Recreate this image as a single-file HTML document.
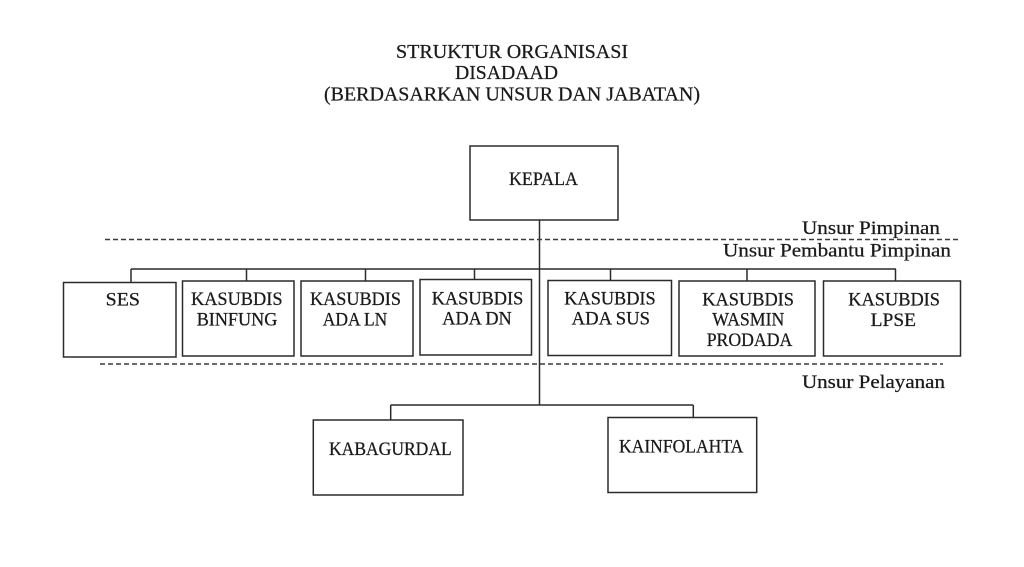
<!DOCTYPE html>
<html>
<head>
<meta charset="utf-8">
<style>
  html, body { margin: 0; padding: 0; background: #ffffff; }
  body { width: 1024px; height: 567px; overflow: hidden; }
  svg { display: block; }
  text { font-family: "Liberation Serif", "DejaVu Serif", serif; fill: #1a1a1a; stroke: #1a1a1a; stroke-width: 0.25; }
</style>
</head>
<body>
<svg width="1024" height="567" viewBox="0 0 1024 567" xmlns="http://www.w3.org/2000/svg">
  <rect x="0" y="0" width="1024" height="567" fill="#ffffff"/>

  <!-- Title -->
  <text x="396" y="58" font-size="20.5" textLength="232" lengthAdjust="spacingAndGlyphs">STRUKTUR ORGANISASI</text>
  <text x="455" y="79" font-size="20.5" textLength="103" lengthAdjust="spacingAndGlyphs">DISADAAD</text>
  <text x="324" y="100.5" font-size="20.5" textLength="376" lengthAdjust="spacingAndGlyphs">(BERDASARKAN UNSUR DAN JABATAN)</text>

  <g fill="none" stroke="#2b2b2b" stroke-width="1.5">
    <!-- KEPALA -->
    <rect x="470" y="146" width="148" height="74"/>
    <!-- main vertical -->
    <line x1="539.5" y1="220" x2="539.5" y2="405"/>

    <!-- horizontal connector for row 2 -->
    <line x1="131" y1="269" x2="896" y2="269"/>
    <line x1="131" y1="269" x2="131" y2="282.5"/>
    <line x1="246.5" y1="269" x2="246.5" y2="281"/>
    <line x1="365.5" y1="269" x2="365.5" y2="281"/>
    <line x1="474.5" y1="269" x2="474.5" y2="279.5"/>
    <line x1="610.5" y1="269" x2="610.5" y2="280.5"/>
    <line x1="747" y1="269" x2="747" y2="281"/>
    <line x1="895.5" y1="269" x2="895.5" y2="281"/>

    <!-- row 2 boxes -->
    <rect x="63.5" y="282.5" width="112.5" height="74.5"/>
    <rect x="182.5" y="281" width="111.5" height="75"/>
    <rect x="301" y="281" width="112" height="75"/>
    <rect x="420" y="279.5" width="111.5" height="75.5"/>
    <rect x="548" y="280.5" width="123.5" height="75"/>
    <rect x="679" y="281" width="136" height="75"/>
    <rect x="823.5" y="281" width="137" height="75"/>

    <!-- lower connector -->
    <line x1="390.7" y1="405" x2="693.3" y2="405"/>
    <line x1="390.7" y1="405" x2="390.7" y2="420"/>
    <line x1="693.3" y1="405" x2="693.3" y2="417.5"/>

    <!-- lower boxes -->
    <rect x="313.3" y="420" width="149.7" height="75"/>
    <rect x="608" y="417.5" width="148.7" height="75"/>
  </g>

  <!-- dashed separators -->
  <g stroke="#3a3a3a" stroke-width="1.6" stroke-dasharray="5 3" fill="none">
    <line x1="105" y1="239.5" x2="959" y2="239.5"/>
    <line x1="100" y1="364" x2="943" y2="364"/>
  </g>

  <!-- Unsur labels -->
  <text x="802" y="234" font-size="18.5" textLength="138" lengthAdjust="spacingAndGlyphs">Unsur Pimpinan</text>
  <text x="723" y="256.5" font-size="18.5" textLength="228" lengthAdjust="spacingAndGlyphs">Unsur Pembantu Pimpinan</text>
  <text x="802" y="388" font-size="18.5" textLength="143" lengthAdjust="spacingAndGlyphs">Unsur Pelayanan</text>

  <!-- KEPALA label -->
  <text x="509" y="185" font-size="18.5" textLength="69" lengthAdjust="spacingAndGlyphs">KEPALA</text>

  <!-- Row 2 labels -->
  <text x="105.7" y="305.5" font-size="18.5" textLength="34.3" lengthAdjust="spacingAndGlyphs">SES</text>

  <text x="191" y="305" font-size="18.5" textLength="91.5" lengthAdjust="spacingAndGlyphs">KASUBDIS</text>
  <text x="196.7" y="325.5" font-size="18.5" textLength="80.6" lengthAdjust="spacingAndGlyphs">BINFUNG</text>

  <text x="310" y="305" font-size="18.5" textLength="91" lengthAdjust="spacingAndGlyphs">KASUBDIS</text>
  <text x="322.7" y="325.3" font-size="18.5" textLength="64.6" lengthAdjust="spacingAndGlyphs">ADA LN</text>

  <text x="431.7" y="304.3" font-size="18.5" textLength="91.6" lengthAdjust="spacingAndGlyphs">KASUBDIS</text>
  <text x="442.3" y="324.3" font-size="18.5" textLength="69.4" lengthAdjust="spacingAndGlyphs">ADA DN</text>

  <text x="564.3" y="304.5" font-size="18.5" textLength="91.4" lengthAdjust="spacingAndGlyphs">KASUBDIS</text>
  <text x="571.7" y="324.7" font-size="18.5" textLength="78.3" lengthAdjust="spacingAndGlyphs">ADA SUS</text>

  <text x="702.3" y="305.5" font-size="18.5" textLength="91.7" lengthAdjust="spacingAndGlyphs">KASUBDIS</text>
  <text x="712.3" y="325.7" font-size="18.5" textLength="72" lengthAdjust="spacingAndGlyphs">WASMIN</text>
  <text x="706.7" y="346" font-size="18.5" textLength="85.6" lengthAdjust="spacingAndGlyphs">PRODADA</text>

  <text x="848.3" y="305.5" font-size="18.5" textLength="91.7" lengthAdjust="spacingAndGlyphs">KASUBDIS</text>
  <text x="870.7" y="326" font-size="18.5" textLength="45.3" lengthAdjust="spacingAndGlyphs">LPSE</text>

  <!-- Lower labels -->
  <text x="329" y="455" font-size="18.5" textLength="122.7" lengthAdjust="spacingAndGlyphs">KABAGURDAL</text>
  <text x="619" y="452.5" font-size="18.5" textLength="124.3" lengthAdjust="spacingAndGlyphs">KAINFOLAHTA</text>
</svg>
</body>
</html>
